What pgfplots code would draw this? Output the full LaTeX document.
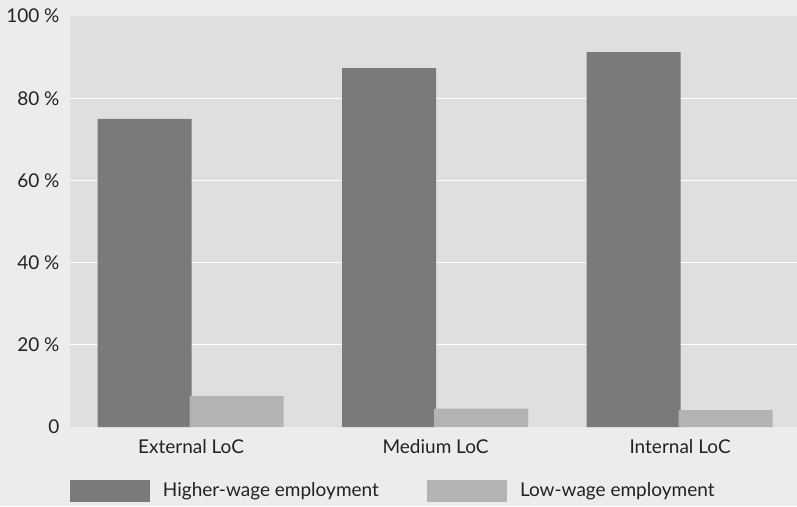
\documentclass[border=0pt]{standalone}
\usepackage{pgfplots}
\pgfplotsset{compat=1.18}
\usepackage{fontspec}
\setmainfont{Lato}
\definecolor{bgout}{HTML}{ECECEC}
\definecolor{bgplot}{HTML}{DFDFDF}
\definecolor{darkbar}{HTML}{7A7A7A}
\definecolor{lightbar}{HTML}{B3B3B3}
\definecolor{txt}{HTML}{222222}
\begin{document}
\fontsize{19pt}{22pt}\selectfont
\begin{tikzpicture}
\fill[bgout] (0pt,0pt) rectangle (797pt,-506pt);
\useasboundingbox (0pt,0pt) rectangle (797pt,-506pt);
\begin{axis}[
  at={(70pt,-427pt)}, anchor=south west,
  scale only axis, width=727pt, height=411pt,
  xmin=-0.495, xmax=2.478, ymin=0, ymax=100,
  axis background/.style={fill=bgplot},
  axis line style={draw=none},
  major tick length=0pt,
  xtick={0,1,2},
  xticklabels={External LoC, Medium LoC, Internal LoC},
  ytick={20,40,60,80},
  yticklabels={20 \%,40 \%,60 \%,80 \%},
  extra y ticks={0,100},
  extra y tick labels={0,100 \%},
  extra y tick style={grid=none},
  ymajorgrids, grid style={white, line width=1.3pt},
  ticklabel style={font=\fontsize{19pt}{22pt}\selectfont, text=txt},
  /pgf/number format/assume math mode=true,
  yticklabel style={xshift=-4pt},
  xticklabel style={yshift=-6pt},
  ybar, bar width=94pt,
  legend style={at={(0,0)}, anchor=west, yshift=-64pt, draw=none, fill=none,
    inner sep=0pt, outer sep=0pt, nodes={inner sep=0pt, text=txt, font=\fontsize{19pt}{22pt}\selectfont},
    /tikz/every odd column/.append style={column sep=13pt}},
  legend columns=2,
  legend image code/.code={\fill[#1] (0pt,-11pt) rectangle (80pt,11pt);},
]
\addplot[fill=darkbar, draw=none, bar shift=-46.5pt] coordinates {(0,75) (1,87.3) (2,91.2)};
\addplot[fill=lightbar, draw=none, bar shift=45.5pt] coordinates {(0,7.5) (1,4.5) (2,4.1)};
\addlegendentry{\makebox[264pt][l]{Higher-wage employment}}
\addlegendentry{Low-wage employment}
\end{axis}
\end{tikzpicture}
\end{document}
